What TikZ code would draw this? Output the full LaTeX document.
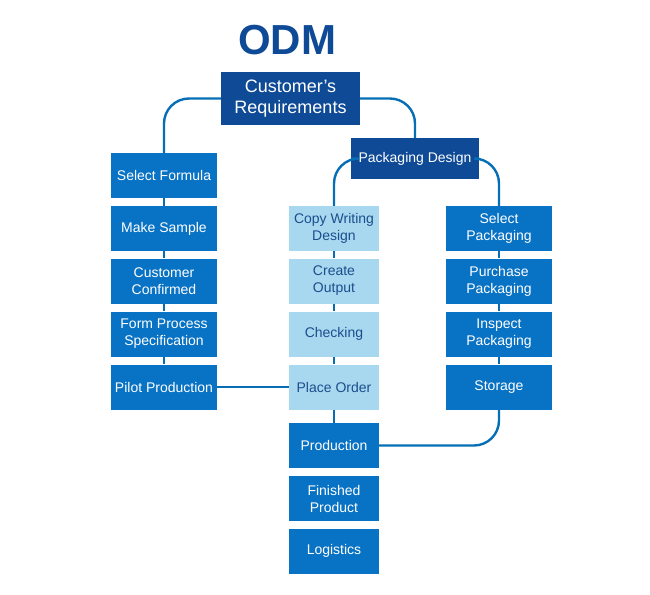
\documentclass[tikz,border=0pt]{standalone}
\usepackage{fontspec}
\setmainfont{Liberation Sans}
\usetikzlibrary{positioning}

\definecolor{navy}{RGB}{14,74,150}
\definecolor{midblue}{RGB}{8,114,196}
\definecolor{pale}{RGB}{168,216,240}
\definecolor{paletext}{RGB}{28,78,140}
\definecolor{linkblue}{RGB}{6,110,180}

\begin{document}
\begin{tikzpicture}[x=1pt,y=-1pt,
    box/.style={fill=midblue, text=white, minimum width=106pt, minimum height=45pt,
        align=center, inner sep=2pt, font=\fontsize{14}{17}\selectfont},
    lightbox/.style={box, fill=pale, text=paletext, minimum width=90pt},
    topbox/.style={box, fill=navy},
    link/.style={draw=linkblue, line width=2.4pt, rounded corners=25pt}]

        \useasboundingbox (0,0) rectangle (650,594);

        \node[text=navy, font=\fontsize{42}{42}\bfseries\selectfont] (title) at (287,40) {ODM};

        \node[topbox, minimum width=139pt, minimum height=53pt, font=\fontsize{18}{21}\selectfont] (req) at (290.5,98.5) {Customer's\\Requirements};
        \node[topbox, minimum width=128pt, minimum height=41pt] (pack) at (415,158.5) {Packaging Design};

        % formula column
        \node[box] (formula) at (164,175.5) {Select Formula};
        \node[box] (sample) at (164,228.5) {Make Sample};
        \node[box] (confirmed) at (164,281) {Customer\\Confirmed};
        \node[box] (spec) at (164,334) {Form Process\\Specification};
        \node[box] (pilot) at (164,387) {Pilot Production};

        % artwork column
        \node[lightbox] (copy) at (334,228.5) {Copy Writing\\Design};
        \node[lightbox] (output) at (334,281) {Create\\Output};
        \node[lightbox] (check) at (334,334) {Checking};
        \node[lightbox] (order) at (334,387) {Place Order};
        \node[box, minimum width=90pt] (prod) at (334,445.5) {Production};
        \node[box, minimum width=90pt] (finished) at (334,498.5) {Finished\\Product};
        \node[box, minimum width=90pt] (logistics) at (334,551) {Logistics};

        % packaging column
        \node[box] (selpack) at (499,228.5) {Select\\Packaging};
        \node[box] (purchase) at (499,281) {Purchase\\Packaging};
        \node[box] (inspect) at (499,334) {Inspect\\Packaging};
        \node[box] (storage) at (499,387) {Storage};

        \draw[link] (req.west) -| (formula.north);
        \draw[link] (req.east) -| (pack.north);
        \draw[link] (pack.west) -| (copy.north);
        \draw[link] (pack.east) -| (selpack.north);

        \foreach \a/\b in {formula/sample, sample/confirmed, confirmed/spec, spec/pilot,
                copy/output, output/check, check/order, order/prod,
                selpack/purchase, purchase/inspect, inspect/storage}
            \draw[link] (\a.south) -- (\b.north);

        \draw[link] (pilot.east) -- (order.west);
        \draw[link] (storage.south) |- (prod.east);

\end{tikzpicture}
\end{document}
